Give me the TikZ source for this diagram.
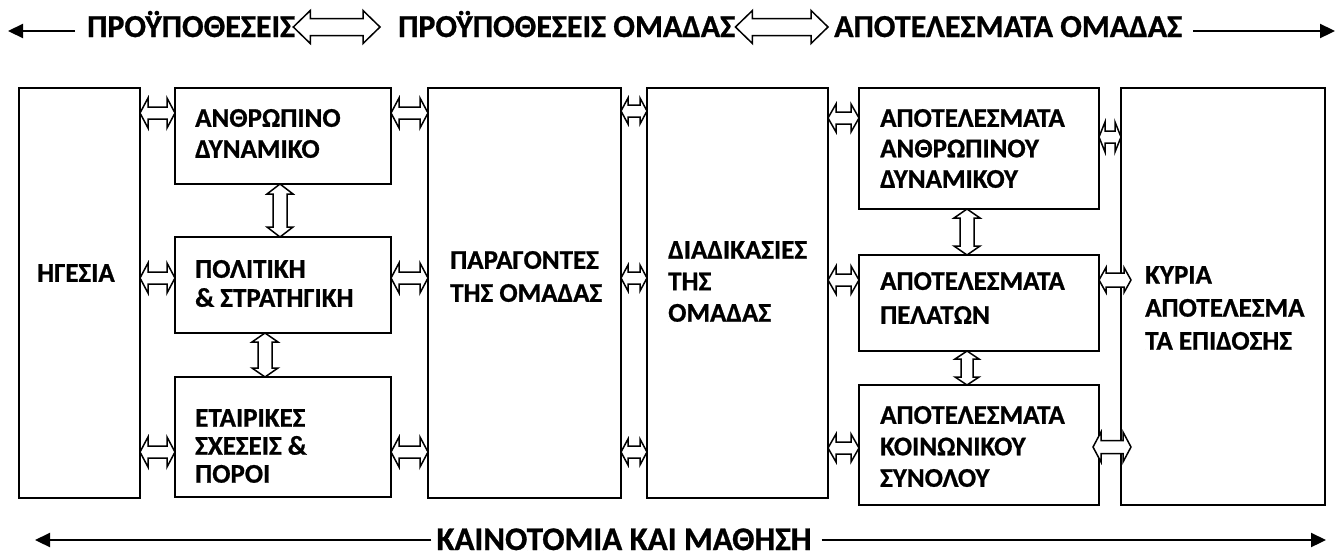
\documentclass[tikz,border=0pt]{standalone}
\usepackage{fontspec}
\setmainfont{Carlito}[BoldFont={Carlito Bold}, BoldFeatures={FakeBold=0.8}]
\usetikzlibrary{calc,arrows.meta}
\tikzset{
 box/.style={draw=black, line width=1.8pt, rectangle, inner sep=0pt, outer sep=0pt, anchor=north west},
 lbl/.style={font=\bfseries\fontsize{27}{#1}\selectfont, align=left, anchor=west, inner sep=0pt},
 head/.style={font=\bfseries\fontsize{#1}{36}\selectfont, anchor=base west, inner sep=0pt},
 barrow/.style={draw=black, line width=1.5pt, fill=white, line join=miter},
 tarrow/.style={draw=black, line width=2.2pt, -{Triangle[length=15pt,width=14pt]}},
}
% horizontal hollow double arrow: from node, to node, y(px), head length, head half-height, shaft half-height, left offset, right offset
\newcommand\HA[8]{\draw[barrow] let \p1=($(#1.east)+(#7,0)$), \p2=($(#2.west)+(#8,0)$) in
 (\x1,-#3pt) -- (\x1+#4pt,-#3pt+#5pt) -- (\x1+#4pt,-#3pt+#6pt) -- (\x2-#4pt,-#3pt+#6pt) -- (\x2-#4pt,-#3pt+#5pt) -- (\x2,-#3pt)
 -- (\x2-#4pt,-#3pt-#5pt) -- (\x2-#4pt,-#3pt-#6pt) -- (\x1+#4pt,-#3pt-#6pt) -- (\x1+#4pt,-#3pt-#5pt) -- cycle;}
% vertical hollow double arrow: upper node, lower node, x(px), head length, head half-width, shaft half-width
\newcommand\VA[6]{\draw[barrow] let \p1=(#1.south), \p2=(#2.north) in
 (#3pt,\y1) -- (#3pt+#5pt,\y1-#4pt) -- (#3pt+#6pt,\y1-#4pt) -- (#3pt+#6pt,\y2+#4pt) -- (#3pt+#5pt,\y2+#4pt) -- (#3pt,\y2)
 -- (#3pt-#5pt,\y2+#4pt) -- (#3pt-#6pt,\y2+#4pt) -- (#3pt-#6pt,\y1-#4pt) -- (#3pt-#5pt,\y1-#4pt) -- cycle;}
\begin{document}
\begin{tikzpicture}[x=1pt,y=-1pt]
\useasboundingbox (0,0) rectangle (1343,555);
% boxes
\node[box, minimum width=121pt, minimum height=410pt] (hg) at (19,88) {};
\node[box, minimum width=216pt, minimum height=96pt] (an) at (175,88) {};
\node[box, minimum width=216pt, minimum height=96pt] (po) at (175,237) {};
\node[box, minimum width=216pt, minimum height=120pt] (et) at (175,377) {};
\node[box, minimum width=193pt, minimum height=410pt] (pa) at (428,88) {};
\node[box, minimum width=181pt, minimum height=410pt] (di) at (647,88) {};
\node[box, minimum width=240pt, minimum height=121pt] (aa) at (859,88) {};
\node[box, minimum width=240pt, minimum height=96pt] (ap) at (859,255) {};
\node[box, minimum width=240pt, minimum height=120pt] (ak) at (859,385) {};
\node[box, minimum width=204pt, minimum height=417pt] (ky) at (1121,88) {};
% box texts
\node[lbl=29] (lhg) at (37,273) {ΗΓΕΣΙΑ};
\node[lbl=31] (lan) at (195,133.5) {ΑΝΘΡΩΠΙΝΟ\\ΔΥΝΑΜΙΚΟ};
\node[lbl=29] (lpo) at (195,283.5) {ΠΟΛΙΤΙΚΗ\\\& ΣΤΡΑΤΗΓΙΚΗ};
\node[lbl=28] (lbet) at (195,446) {ΕΤΑΙΡΙΚΕΣ\\ΣΧΕΣΕΙΣ \&\\ΠΟΡΟΙ};
\node[lbl=33] (lpa) at (450,276.5) {ΠΑΡΑΓΟΝΤΕΣ\\ΤΗΣ ΟΜΑΔΑΣ};
\node[lbl=31.5] (ldi) at (668,281.5) {ΔΙΑΔΙΚΑΣΙΕΣ\\ΤΗΣ\\ΟΜΑΔΑΣ};
\node[lbl=30.5] (laa) at (880,148.5) {ΑΠΟΤΕΛΕΣΜΑΤΑ\\ΑΝΘΡΩΠΙΝΟΥ\\ΔΥΝΑΜΙΚΟΥ};
\node[lbl=34] (lap) at (880,298) {ΑΠΟΤΕΛΕΣΜΑΤΑ\\ΠΕΛΑΤΩΝ};
\node[lbl=31.5] (lak) at (880,446.5) {ΑΠΟΤΕΛΕΣΜΑΤΑ\\ΚΟΙΝΩΝΙΚΟΥ\\ΣΥΝΟΛΟΥ};
\node[lbl=33] (lky) at (1145,308) {ΚΥΡΙΑ\\ΑΠΟΤΕΛΕΣΜΑ\\ΤΑ ΕΠΙΔΟΣΗΣ};
% horizontal connectors
\HA{hg}{an}{113}{8}{15}{6}{0}{0}
\HA{hg}{po}{278}{8}{15}{6}{0}{0}
\HA{hg}{et}{452}{8}{15}{6}{0}{0}
\HA{an}{pa}{113}{8}{15}{6}{0}{0}
\HA{po}{pa}{278}{8}{15}{6}{0}{0}
\HA{et}{pa}{452}{8}{15}{6}{0}{0}
\HA{pa}{di}{111}{7}{13}{6}{0}{0}
\HA{pa}{di}{278}{7}{13}{6}{0}{0}
\HA{pa}{di}{452}{7}{13}{6}{0}{0}
\HA{di}{aa}{118}{8}{14}{6}{0}{0}
\HA{di}{ap}{280}{8}{14}{6}{0}{0}
\HA{di}{ak}{448}{8}{14}{6}{0}{0}
\HA{aa}{ky}{137}{6}{15}{6}{0}{0}
\HA{ap}{ky}{280}{7}{12.5}{7}{0}{10}
\HA{ak}{ky}{447}{8}{15}{6.5}{-6}{10}
% vertical connectors
\VA{an}{po}{280}{10}{13}{7}
\VA{po}{et}{265}{9}{13}{7}
\VA{aa}{ap}{967}{9}{13}{7}
\VA{ap}{ak}{967}{8}{12}{6}
% top headings
\node[head=32] (t1) at (87,37) {ΠΡΟΫΠΟΘΕΣΕΙΣ};
\node[head=32] (t2) at (398,37) {ΠΡΟΫΠΟΘΕΣΕΙΣ ΟΜΑΔΑΣ};
\node[head=32] (t3) at (834,37) {ΑΠΟΤΕΛΕΣΜΑΤΑ ΟΜΑΔΑΣ};
\HA{t1}{t2}{27}{17}{16.5}{8.5}{-2}{-18}
\HA{t2}{t3}{27}{17}{16.5}{8.5}{0}{-6}
\coordinate (tl) at (8,31);
\coordinate (tr) at (1335,31);
\draw[tarrow] ($(t1.base west)+(-12,-6)$) -- (tl);
\draw[tarrow] ($(t3.base east)+(11,-6)$) -- (tr);
% bottom heading
\node[head=33, anchor=base] (bt) at (624,550) {ΚΑΙΝΟΤΟΜΙΑ ΚΑΙ ΜΑΘΗΣΗ};
\coordinate (bl) at (35,540);
\coordinate (br) at (1326,540);
\draw[tarrow] ($(bt.base west)+(-5,-10)$) -- (bl);
\draw[tarrow] ($(bt.base east)+(10,-10)$) -- (br);
\end{tikzpicture}
\end{document}
